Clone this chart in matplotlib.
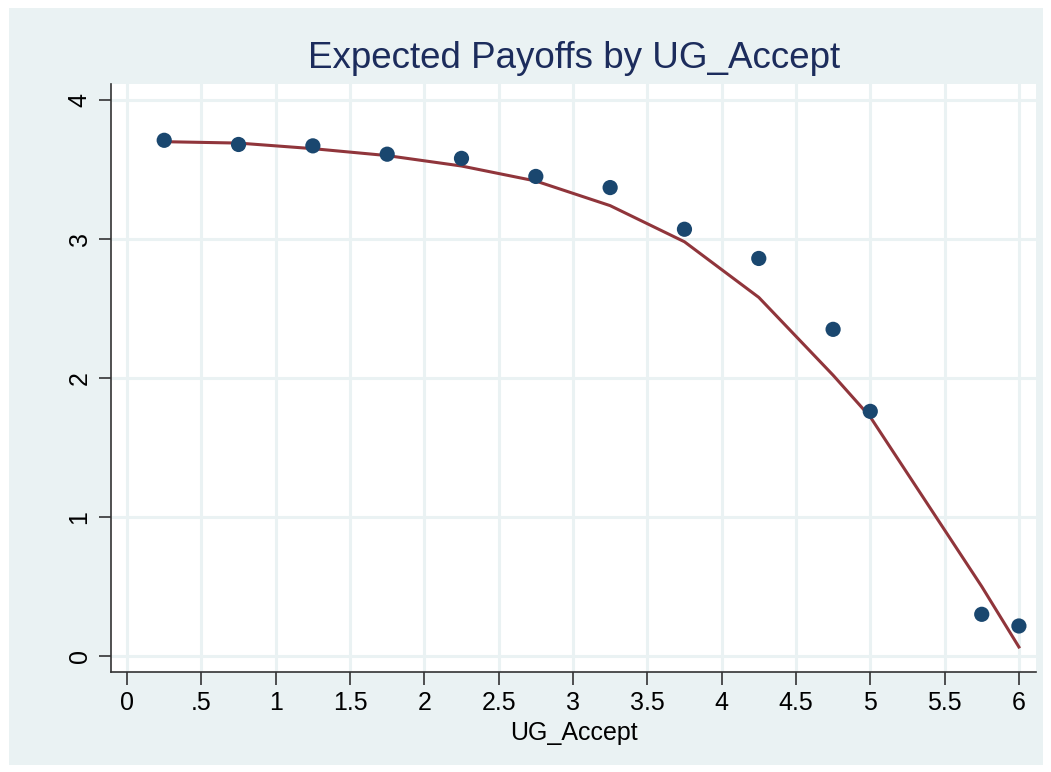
import matplotlib
matplotlib.use("Agg")
import matplotlib.pyplot as plt

# Data
ug_accept = [0.25, 0.75, 1.25, 1.75, 2.25, 2.75, 3.25, 3.75, 4.25, 4.75, 5.0, 5.75, 6.0]
payoff_obs = [3.71, 3.68, 3.67, 3.61, 3.58, 3.45, 3.37, 3.07, 2.86, 2.35, 1.76, 0.30, 0.216]
payoff_fit = [3.70, 3.69, 3.65, 3.60, 3.525, 3.417, 3.24, 2.98, 2.58, 2.02, 1.72, 0.50, 0.065]
x_ticks = [0, 0.5, 1, 1.5, 2, 2.5, 3, 3.5, 4, 4.5, 5, 5.5, 6]
x_tick_labels = ["0", ".5", "1", "1.5", "2", "2.5", "3", "3.5", "4", "4.5", "5", "5.5", "6"]
y_ticks = [0, 1, 2, 3, 4]
y_tick_labels = ["0", "1", "2", "3", "4"]

BG = "#EAF2F3"
plt.rcParams['font.family'] = ['Liberation Sans', 'DejaVu Sans']

W, H = 1051, 772
fig = plt.figure(figsize=(W / 100, H / 100), dpi=100)
fig.patch.set_facecolor("white")

# background panel (Stata-style graph region)
bg = fig.add_axes([9 / W, 1 - 765 / H, (1043 - 9) / W, (765 - 8) / H], zorder=-10)
bg.set_facecolor(BG)
bg.set_xticks([])
bg.set_yticks([])
for s in bg.spines.values():
    s.set_visible(False)

ax = fig.add_axes([111 / W, 1 - 672 / H, (1036 - 111) / W, (672 - 84) / H], zorder=1)
ax.set_facecolor("white")

ax.plot(ug_accept, payoff_fit, color="#90353b", lw=2.2, zorder=3)
ax.scatter(ug_accept, payoff_obs, s=120, color="#1a476f", edgecolors="none", zorder=4)

ax.set_xlim(-0.108, 6.115)
ax.set_ylim(-0.115, 4.115)

ax.set_xticks(x_ticks)
ax.set_xticklabels(x_tick_labels, fontsize=18)
ax.set_yticks(y_ticks)
ax.set_yticklabels(y_tick_labels, fontsize=18, rotation=90, va="center")

ax.grid(True, color=BG, lw=2.2, zorder=0)
ax.set_axisbelow(True)

for s in ["top", "right"]:
    ax.spines[s].set_visible(False)
for s in ["left", "bottom"]:
    ax.spines[s].set_color("#333333")
    ax.spines[s].set_linewidth(1.2)

ax.tick_params(axis="both", direction="out", length=9, width=1.2, color="#333333",
               labelcolor="black", pad=5)

ax.set_xlabel("UG_Accept", fontsize=18, labelpad=4)
fig.text(574 / W, 1 - 59 / H, "Expected Payoffs by UG_Accept", fontsize=26.5,
         color="#1c2c5c", ha="center", va="center")

fig.savefig("out.png", dpi=100, facecolor=fig.get_facecolor())
